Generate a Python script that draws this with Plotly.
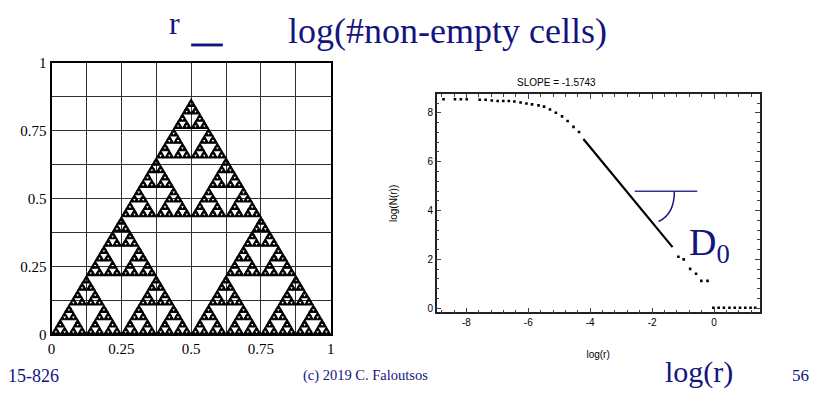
import plotly.graph_objects as go

# ---------------- data ----------------
# Sierpinski triangle: outer corner vertices and recursion depth
tri_x = [0.0, 1.0, 0.5]
tri_y = [0.0, 0.0, 0.866]
sier_depth = 6

left_ticks = [0, 0.25, 0.5, 0.75, 1]
left_tick_text = ["0", "0.25", "0.5", "0.75", "1"]

# box-counting plot: log(r) vs log(N(r))
logr_pts = [-8.74, -8.37, -8.18, -7.99, -7.57, -7.38, -7.18, -6.99, -6.81, -6.63,
            -6.45, -6.25, -6.06, -5.88, -5.67, -5.49, -5.30, -5.11, -4.91, -4.73,
            -4.54, -4.36,
            -1.15, -0.98, -0.77, -0.58, -0.41, -0.21,
            -0.02, 0.15, 0.32, 0.50, 0.67, 0.84, 1.01, 1.18, 1.33]
logN_pts = [8.56, 8.56, 8.56, 8.56, 8.54, 8.54, 8.51, 8.49, 8.49, 8.49,
            8.47, 8.43, 8.39, 8.35, 8.31, 8.26, 8.14, 8.01, 7.86, 7.67,
            7.43, 7.22,
            2.11, 2.00, 1.61, 1.41, 1.12, 1.12,
            0.02, 0.02, 0.02, 0.02, 0.02, 0.02, 0.02, 0.02, 0.02]
fit_logr = [-4.22, -1.34]
fit_logN = [6.93, 2.50]
slope_text = "SLOPE = -1.5743"

right_xticks = [-8, -6, -4, -2, 0]
right_xtext = ["-8", "-6", "-4", "-2", "0"]
right_yticks = [0, 2, 4, 6, 8]

NAVY = "#14147f"
SERIF = "Liberation Serif, Times New Roman, serif"
SANS = "Liberation Sans, Arial, sans-serif"

W, H = 814, 400


def subdivide(a, b, c, d):
    if d == 0:
        return [(a, b, c)]
    ab = ((a[0] + b[0]) / 2, (a[1] + b[1]) / 2)
    ac = ((a[0] + c[0]) / 2, (a[1] + c[1]) / 2)
    bc = ((b[0] + c[0]) / 2, (b[1] + c[1]) / 2)
    return (subdivide(a, ab, ac, d - 1) + subdivide(ab, b, bc, d - 1)
            + subdivide(ac, bc, c, d - 1))


corners = list(zip(tri_x, tri_y))
tris = subdivide(corners[0], corners[1], corners[2], sier_depth)
sx, sy = [], []
for t in tris:
    for p in t:
        sx.append(p[0])
        sy.append(p[1])
    sx.append(t[0][0]); sy.append(t[0][1])
    sx.append(None); sy.append(None)


def px_x(p):
    return p / W


def px_y(p):
    return 1 - p / H


fig = go.Figure()

fig.add_trace(go.Scatter(
    x=sx, y=sy, mode="lines", fill="toself", fillcolor="black",
    line=dict(color="black", width=1.1), xaxis="x", yaxis="y",
    hoverinfo="skip", showlegend=False))

fig.add_trace(go.Scatter(
    x=logr_pts, y=logN_pts, mode="markers",
    marker=dict(color="black", size=2.6, symbol="square"),
    xaxis="x2", yaxis="y2", showlegend=False))

fig.add_trace(go.Scatter(
    x=fit_logr, y=fit_logN, mode="lines",
    line=dict(color="black", width=2.2),
    xaxis="x2", yaxis="y2", showlegend=False))

# ---- left axes ----
left_common = dict(
    range=[0, 1], tickvals=left_ticks, ticktext=left_tick_text,
    showgrid=True, gridcolor="#303030", gridwidth=1,
    minor=dict(dtick=0.125, tick0=0, showgrid=True, gridcolor="#303030", gridwidth=1),
    showline=True, linecolor="black", linewidth=2, mirror=True,
    ticks="", zeroline=False,
    tickfont=dict(family=SERIF, size=15, color="black"),
)
fig.update_layout(
    xaxis=dict(domain=[px_x(48), px_x(330)], anchor="y", **left_common),
    yaxis=dict(domain=[px_y(340), px_y(57)], anchor="x", **left_common),
)

# ---- right axes ----
fig.update_layout(
    xaxis2=dict(domain=[px_x(437), px_x(763)], anchor="y2", range=[-8.96, 1.47],
                tickvals=right_xticks, ticktext=right_xtext,
                ticks="inside", ticklen=5, tickwidth=1,
                minor=dict(dtick=0.4, tick0=0, ticks="inside", ticklen=3, tickwidth=1),
                showline=True, linecolor="#222", linewidth=1.5, mirror="allticks",
                showgrid=False, zeroline=False,
                tickfont=dict(family=SANS, size=10, color="black"),
                title=dict(text="log(r)", font=dict(family=SANS, size=10, color="black"),
                           standoff=24)),
    yaxis2=dict(domain=[px_y(317), px_y(90)], anchor="x2", range=[-0.17, 8.76],
                tickvals=right_yticks, ticks="inside", ticklen=5, tickwidth=1,
                minor=dict(dtick=0.4, tick0=0, ticks="inside", ticklen=3, tickwidth=1),
                showline=True, linecolor="#222", linewidth=1.5, mirror="allticks",
                showgrid=False, zeroline=False,
                tickfont=dict(family=SANS, size=10, color="black"),
                title=dict(text="log(N(r))", font=dict(family=SANS, size=10, color="black"),
                           standoff=28)),
)

annotations = [
    dict(text=slope_text, x=px_x(600), y=px_y(70), xref="paper", yref="paper",
         showarrow=False, font=dict(family=SANS, size=10, color="black")),
    dict(text="r", x=px_x(165), y=px_y(16), xref="paper", yref="paper",
         xanchor="left", yanchor="middle", showarrow=False,
         font=dict(family=SERIF, size=32, color=NAVY)),
    dict(text="log(#non-empty cells)", x=px_x(285), y=px_y(24), xref="paper", yref="paper",
         xanchor="left", yanchor="middle", showarrow=False,
         font=dict(family=SERIF, size=36, color=NAVY)),
    dict(text="D<sub>0</sub>", x=-0.88, y=2.6, xref="x2", yref="y2",
         xanchor="left", yanchor="middle", showarrow=False,
         font=dict(family=SERIF, size=38, color=NAVY)),
    dict(text="15-826", x=px_x(2), y=px_y(383), xref="paper", yref="paper",
         xanchor="left", yanchor="middle", showarrow=False,
         font=dict(family=SERIF, size=18, color=NAVY)),
    dict(text="(c) 2019 C. Faloutsos", x=px_x(365), y=px_y(383), xref="paper", yref="paper",
         xanchor="center", yanchor="middle", showarrow=False,
         font=dict(family=SERIF, size=14.5, color=NAVY)),
    dict(text="log(r)", x=px_x(666), y=px_y(379), xref="paper", yref="paper",
         xanchor="left", yanchor="middle", showarrow=False,
         font=dict(family=SERIF, size=30, color=NAVY)),
    dict(text="56", x=px_x(815), y=px_y(383), xref="paper", yref="paper",
         xanchor="right", yanchor="middle", showarrow=False,
         font=dict(family=SERIF, size=17, color=NAVY)),
]

shapes = [
    # underline dash next to "r"
    dict(type="rect", xref="paper", yref="paper",
         x0=px_x(189), x1=px_x(221), y0=px_y(40), y1=px_y(37),
         fillcolor=NAVY, line=dict(width=0)),
    # slope marker: horizontal line + arc
    dict(type="line", xref="x2", yref="y2", x0=-2.56, x1=-0.54, y0=4.79, y1=4.79,
         line=dict(color="#33378c", width=1.5)),
    dict(type="path", xref="x2", yref="y2",
         path="M -1.28,4.79 C -1.28,4.2 -1.45,3.75 -1.79,3.55",
         line=dict(color=NAVY, width=1.5)),
]

fig.update_layout(
    width=W, height=H, margin=dict(l=0, r=0, t=0, b=0),
    paper_bgcolor="white", plot_bgcolor="white",
    showlegend=False, annotations=annotations, shapes=shapes,
)

fig.write_html("out.html", config={"displayModeBar": False},
               post_script="document.body.style.margin='0';")
